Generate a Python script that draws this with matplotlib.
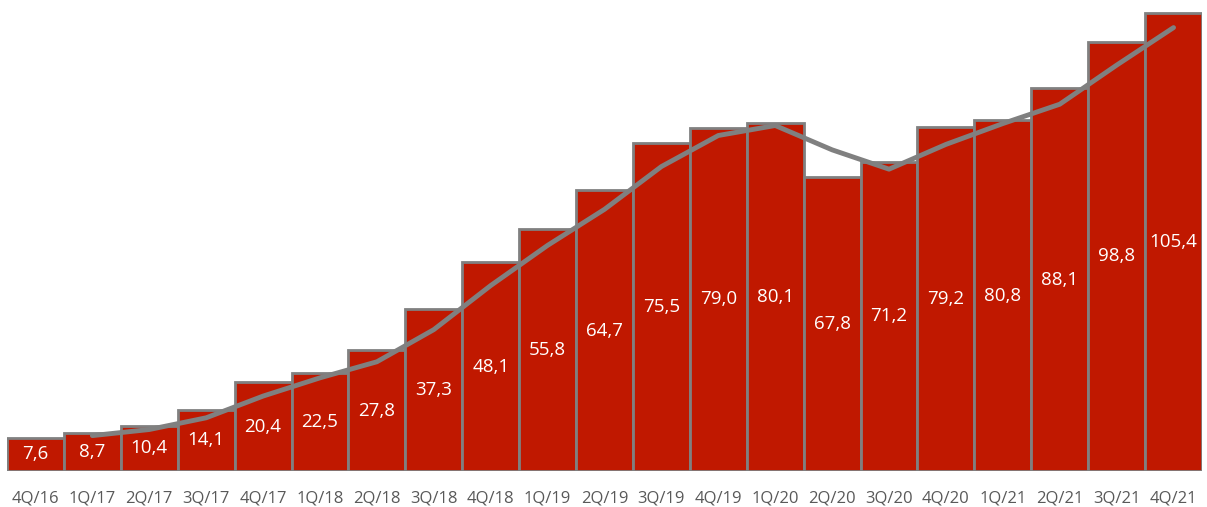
import matplotlib
matplotlib.use('Agg')
import matplotlib.pyplot as plt
import numpy as np

quarters = ["4Q/16", "1Q/17", "2Q/17", "3Q/17", "4Q/17", "1Q/18", "2Q/18", "3Q/18",
            "4Q/18", "1Q/19", "2Q/19", "3Q/19", "4Q/19", "1Q/20", "2Q/20", "3Q/20",
            "4Q/20", "1Q/21", "2Q/21", "3Q/21", "4Q/21"]
values = [7.6, 8.7, 10.4, 14.1, 20.4, 22.5, 27.8, 37.3, 48.1, 55.8, 64.7,
          75.5, 79.0, 80.1, 67.8, 71.2, 79.2, 80.8, 88.1, 98.8, 105.4]
labels = ["7,6", "8,7", "10,4", "14,1", "20,4", "22,5", "27,8", "37,3", "48,1", "55,8",
          "64,7", "75,5", "79,0", "80,1", "67,8", "71,2", "79,2", "80,8", "88,1", "98,8", "105,4"]
# trend line (2-period moving average as shown), starting at 1Q/17
trend = [8.15, 9.55, 12.25, 17.25, 21.45, 25.15, 32.55, 42.7, 51.95, 60.25,
         70.1, 77.25, 79.55, 73.95, 69.5, 75.2, 80.0, 84.45, 93.45, 102.1]

plt.rcParams['font.family'] = ['Open Sans', 'DejaVu Sans']

fig = plt.figure(figsize=(12.07, 5.07), dpi=100)
ax = fig.add_axes([7 / 1207, 36 / 507, 1195 / 1207, 466 / 507])

x = np.arange(len(values))
ax.bar(x, values, width=1.0, color='#C01800', edgecolor='#808080', linewidth=2, zorder=2)
ax.plot(x[1:], trend, color='#808080', linewidth=3.5, solid_capstyle='round',
        solid_joinstyle='round', zorder=3)

for xi, v, lab in zip(x, values, labels):
    ax.text(xi, v / 2, lab, ha='center', va='center', color='white', fontsize=13.5, zorder=4)

ax.axhline(0, color='#D9D9D9', linewidth=1.5, zorder=1)
ax.set_xlim(-0.5, len(values) - 0.5)
ax.set_ylim(0, 107.3)
ax.set_xticks(x)
ax.set_xticklabels(quarters, fontsize=12, color='#595959')
ax.tick_params(axis='x', length=0, pad=14)
ax.set_yticks([])
for s in ax.spines.values():
    s.set_visible(False)

fig.savefig('out.png', dpi=100, facecolor='white')
